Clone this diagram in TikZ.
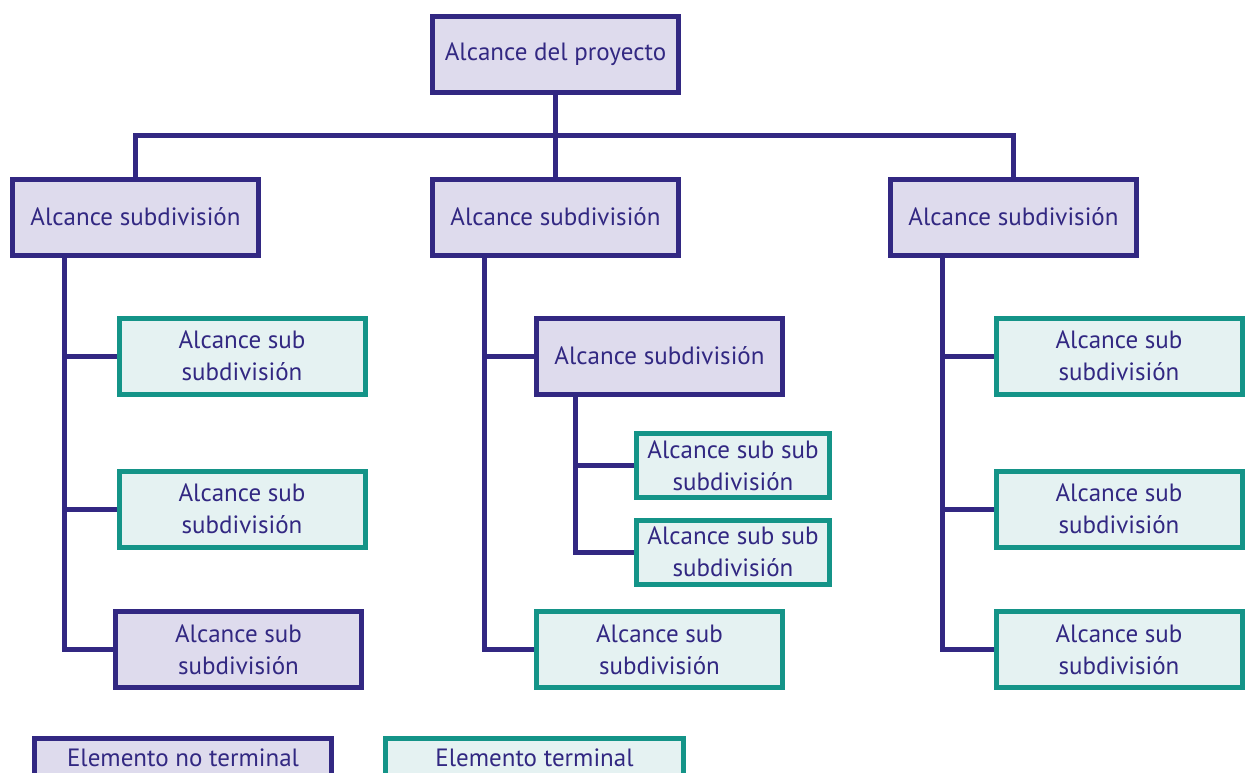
\documentclass[tikz,border=0pt]{standalone}
\usepackage{fontspec}
\setmainfont{PT Sans}
\usepackage{tikz}

\definecolor{wbsblue}{RGB}{50,40,130}
\definecolor{wbslav}{RGB}{222,219,237}
\definecolor{wbsteal}{RGB}{20,148,136}
\definecolor{wbsmint}{RGB}{229,242,242}

\tikzset{
  nonterm/.style={draw=wbsblue, fill=wbslav, line width=5pt, text=wbsblue,
    minimum width=246pt, minimum height=76pt, inner sep=0pt, align=center,
    font=\fontsize{25}{32}\selectfont},
  term/.style={nonterm, draw=wbsteal, fill=wbsmint},
  smallbox/.style={minimum width=193pt, minimum height=64pt},
  legbox/.style={minimum width=297pt, minimum height=40pt},
  link/.style={draw=wbsblue, line width=5pt},
}

\begin{document}
\begin{tikzpicture}[x=1pt,y=-1pt]
\useasboundingbox (0,0) rectangle (1245,772);

% x of the vertical trunks
\coordinate (tA)  at (64,0);
\coordinate (tB)  at (484,0);
\coordinate (tB1) at (575,0);
\coordinate (tC)  at (942,0);
\coordinate (bar) at (555.5,135); % level of the top bus

% top level
\node[nonterm] (root) at (555.5,54.5) {Alcance del proyecto};
\node[nonterm] (sA) at (135.5,217) {Alcance subdivisión};
\node[nonterm] (sB) at (555.5,217) {Alcance subdivisión};
\node[nonterm] (sC) at (1013.5,217) {Alcance subdivisión};

% left branch
\node[term]    (a1) at (242,356)     {Alcance sub\\subdivisión};
\node[term]    (a2) at (242,509)     {Alcance sub\\subdivisión};
\node[nonterm] (a3) at (238.5,649.5) {Alcance sub\\subdivisión};

% middle branch
\node[nonterm] (b1)  at (659.5,356)   {Alcance subdivisión};
\node[term, smallbox] (b11) at (733,465.5) {Alcance sub sub\\subdivisión};
\node[term, smallbox] (b12) at (733,552)   {Alcance sub sub\\subdivisión};
\node[term]    (b2)  at (659.5,649.5) {Alcance sub\\subdivisión};

% right branch
\node[term] (c1) at (1119,356)   {Alcance sub\\subdivisión};
\node[term] (c2) at (1119,509)   {Alcance sub\\subdivisión};
\node[term] (c3) at (1119,649.5) {Alcance sub\\subdivisión};

% legend
\node[nonterm, legbox] (legN) at (183,758)   {Elemento no terminal};
\node[term, legbox, minimum width=298pt] (legT) at (534.5,758) {Elemento terminal};

% connectors
\draw[link] (root.south) -- (sB.north);
\draw[link] (sA.north) |- (bar) -| (sC.north);

\draw[link] (sA.south -| tA) |- (a3.west);
\foreach \n in {a1,a2}
  \draw[link] (\n.west) -- (\n.west -| tA);

\draw[link] (sB.south -| tB) |- (b2.west);
\draw[link] (b1.west) -- (b1.west -| tB);
\draw[link] (b1.south -| tB1) |- (b12.west);
\draw[link] (b11.west) -- (b11.west -| tB1);

\draw[link] (sC.south -| tC) |- (c3.west);
\foreach \n in {c1,c2}
  \draw[link] (\n.west) -- (\n.west -| tC);
\end{tikzpicture}
\end{document}
